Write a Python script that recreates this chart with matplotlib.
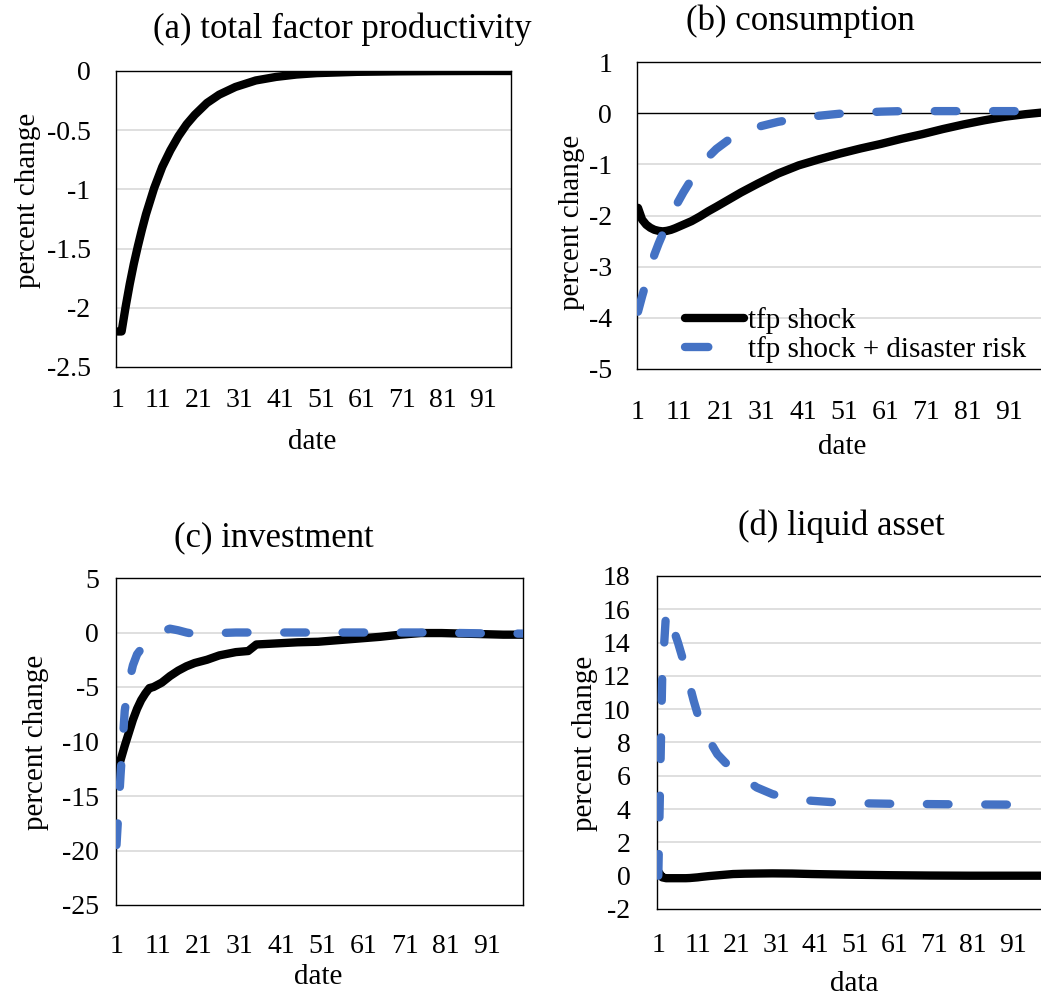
import matplotlib
matplotlib.use("Agg")
import matplotlib.pyplot as plt
from matplotlib.lines import Line2D
from matplotlib.ticker import FormatStrFormatter

plt.rcParams['font.family'] = ['Liberation Serif', 'DejaVu Serif']
plt.rcParams['axes.unicode_minus'] = False

BLUE = '#4472C4'
GRID = '#D9D9D9'
LW = 6
DASH = (0, (2.6, 4.4))

# (a) total factor productivity
dates_a = [1, 2, 3, 4, 5, 6, 7, 8, 9, 10, 12, 14, 16, 18, 20, 23, 26, 30, 35, 40, 45, 50, 60, 70, 80, 90, 100]
tfp_a = [-2.2, -2.2, -1.99, -1.80, -1.63, -1.48, -1.34, -1.21, -1.10, -0.99, -0.81, -0.67, -0.55, -0.45,
         -0.37, -0.27, -0.20, -0.135, -0.08, -0.05, -0.03, -0.018, -0.007, -0.003, -0.001, 0.0, 0.0]

# (b) consumption
dates_b = [1, 2, 3, 4, 5, 6, 7, 8, 9, 10, 12, 14, 16, 18, 20, 23, 26, 30, 35, 40, 45, 50, 55, 60,
           65, 70, 75, 80, 85, 90, 95, 100]
cons_tfp = [-1.85, -2.08, -2.18, -2.24, -2.28, -2.30, -2.31, -2.30, -2.28, -2.25, -2.18, -2.11, -2.02,
            -1.92, -1.83, -1.69, -1.55, -1.38, -1.18, -1.02, -0.90, -0.79, -0.69, -0.60, -0.50, -0.41,
            -0.31, -0.22, -0.14, -0.07, -0.02, 0.02]
cons_dis = [-3.88, -3.58, -3.30, -3.02, -2.76, -2.55, -2.36, -2.18, -2.00, -1.84, -1.55, -1.29, -1.06,
            -0.86, -0.70, -0.52, -0.39, -0.27, -0.17, -0.10, -0.05, -0.01, 0.01, 0.03, 0.04, 0.04,
            0.04, 0.04, 0.04, 0.04, 0.04, 0.04]

# (c) investment
dates_c = [1, 2, 3, 4, 5, 6, 7, 8, 9, 10, 12, 14, 16, 18, 20, 23, 26, 30, 33, 35, 40, 45, 50, 55,
           60, 65, 70, 75, 80, 85, 90, 95, 100]
inv_tfp = [-13.0, -11.7, -10.4, -9.2, -8.0, -7.0, -6.2, -5.6, -5.1, -5.0, -4.6, -4.0, -3.5, -3.1,
           -2.8, -2.5, -2.1, -1.8, -1.7, -1.1, -1.0, -0.9, -0.85, -0.7, -0.55, -0.4, -0.2, -0.05,
           -0.05, -0.1, -0.15, -0.2, -0.2]
inv_dis = [-19.5, -13.0, -7.2, -4.6, -3.0, -2.0, -1.5, -1.1, -0.7, -0.4, 0.1, 0.35, 0.2, 0.0, -0.15,
           -0.1, -0.05, 0.0, 0.0, 0.0, 0.0, 0.0, 0.0, 0.0, 0.0, 0.0, 0.0, 0.0, -0.02, -0.05, -0.08,
           -0.1, -0.1]

# (d) liquid asset
dates_d = [1, 2, 3, 4, 5, 6, 7, 8, 9, 10, 11, 12, 14, 16, 18, 20, 23, 26, 30, 35, 40, 45, 50, 60,
           70, 80, 90, 100]
liq_tfp = [0.25, -0.10, -0.15, -0.15, -0.15, -0.15, -0.15, -0.15, -0.14, -0.12, -0.10, -0.07, -0.02,
           0.02, 0.06, 0.10, 0.12, 0.13, 0.14, 0.13, 0.10, 0.08, 0.06, 0.03, 0.01, 0.0, 0.0, 0.0]
liq_dis = [0.0, 12.0, 15.9, 15.2, 14.7, 14.0, 13.2, 12.4, 11.4, 10.5, 9.7, 9.0, 8.1, 7.3, 6.8, 6.4,
           5.8, 5.3, 4.9, 4.6, 4.5, 4.42, 4.36, 4.32, 4.30, 4.28, 4.27, 4.27]

xticks = [1, 11, 21, 31, 41, 51, 61, 71, 81, 91]

W, H = 1041, 998
fig = plt.figure(figsize=(W / 100, H / 100), dpi=100)


def make_axes(left, top, right, bottom):
    return fig.add_axes([left / W, 1 - bottom / H, (right - left) / W, (bottom - top) / H])


def style(ax, xlim, ylim, step, grid_vals, xpad, ypad):
    ax.set_xlim(*xlim)
    ax.set_ylim(*ylim)
    ax.set_xticks(xticks)
    ax.set_yticks([ylim[0] + i * step for i in range(int(round((ylim[1] - ylim[0]) / step)) + 1)])
    ax.yaxis.set_major_formatter(FormatStrFormatter('%g'))
    ax.tick_params(axis='x', length=0, pad=xpad, labelsize=20)
    ax.tick_params(axis='y', length=0, pad=ypad, labelsize=20)
    for g in grid_vals:
        ax.axhline(g, color=GRID, lw=1.2, zorder=0)
    for s in ax.spines.values():
        s.set_color('black')
        s.set_linewidth(1.0)


def black(ax, x, y):
    return ax.plot(x, y, color='black', lw=LW, solid_capstyle='round', solid_joinstyle='round',
                   zorder=3)[0]


def blue(ax, x, y):
    return ax.plot(x, y, color=BLUE, lw=LW, linestyle=DASH, dash_capstyle='round',
                   dash_joinstyle='round', zorder=4)[0]


# (a)
ax_a = make_axes(115.5, 71, 511, 367)
style(ax_a, (0.5, 97.8), (-2.5, 0), 0.5, [-0.5, -1, -1.5, -2], 15, 18)
black(ax_a, dates_a, tfp_a)

# (b)
ax_b = make_axes(637, 62, 1046, 369)
style(ax_b, (0.76, 100), (-5, 1), 1, [-1, -2, -3, -4], 22, 18)
ax_b.axhline(0, color='black', lw=1.0, zorder=1)
black(ax_b, dates_b, cons_tfp)
blue(ax_b, dates_b, cons_dis)
h1 = Line2D([], [], color='black', lw=LW, solid_capstyle='round')
h2 = Line2D([], [], color=BLUE, lw=LW, linestyle=(0, (2.8, 12)), dash_capstyle='round')
ax_b.legend([h1, h2], ['tfp shock', 'tfp shock + disaster risk'], loc='lower left',
            bbox_to_anchor=(0.118, 0.02), frameon=False, fontsize=21, handlelength=2.0,
            handletextpad=0.15, labelspacing=0.05, borderpad=0, borderaxespad=0)

# (c)
ax_c = make_axes(115.5, 578, 523, 905)
style(ax_c, (0.76, 99.8), (-25, 5), 5, [0, -5, -10, -15, -20], 21, 12)
black(ax_c, dates_c, inv_tfp)
blue(ax_c, dates_c, inv_dis)

# (d)
ax_d = make_axes(657, 576, 1048, 909)
style(ax_d, (0.67, 100), (-2, 18), 2, [0, 2, 4, 6, 8, 10, 12, 14, 16], 17, 19)
black(ax_d, dates_d, liq_tfp)
blue(ax_d, dates_d, liq_dis)


# titles and axis labels
def ftext(x, y, s, size, rot=0):
    fig.text(x / W, 1 - y / H, s, fontsize=size, ha='center', va='center', rotation=rot)


ftext(342, 29, '(a) total factor productivity', 25)
ftext(800, 21, '(b) consumption', 25)
ftext(274, 538, '(c) investment', 25)
ftext(841, 526, '(d) liquid asset', 25)

ftext(28, 200, 'percent change', 21, 90)
ftext(572, 222, 'percent change', 21, 90)
ftext(36, 742, 'percent change', 21, 90)
ftext(585, 743, 'percent change', 21, 90)

ftext(312, 442, 'date', 21)
ftext(842, 447, 'date', 21)
ftext(318, 977, 'date', 21)
ftext(854, 984, 'data', 21)

fig.savefig('out.png', dpi=100)
